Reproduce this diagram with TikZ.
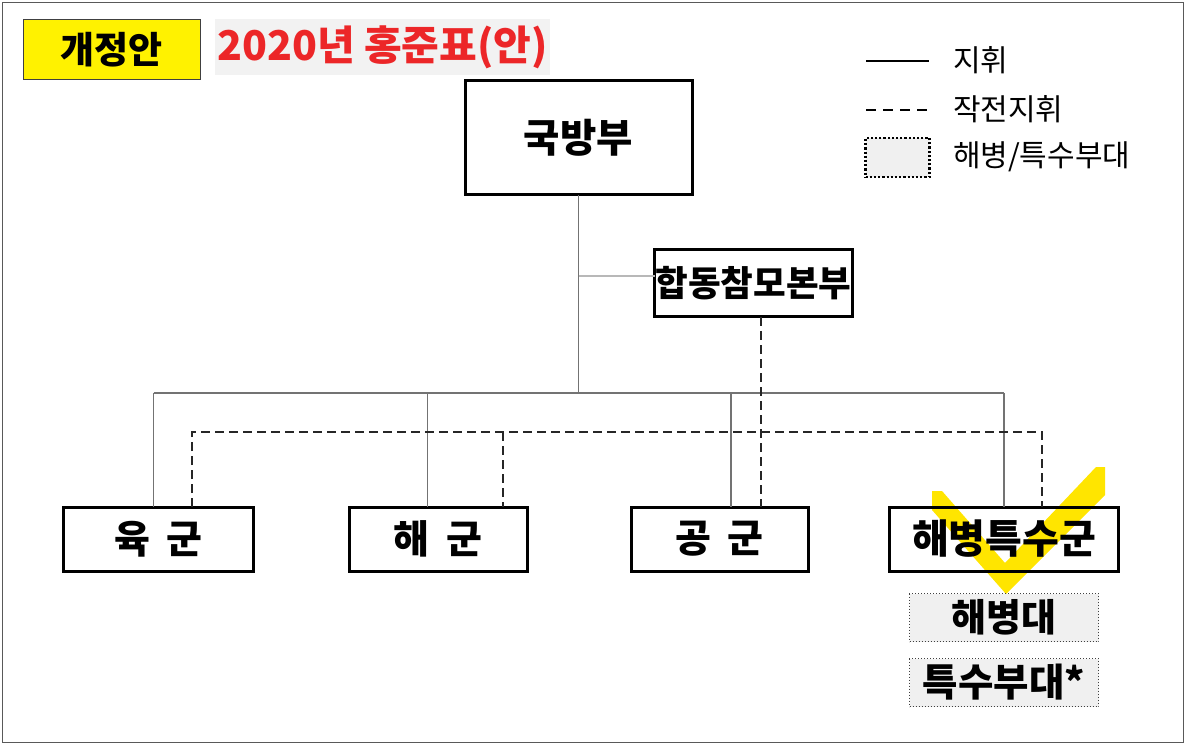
\documentclass[tikz,border=0pt]{standalone}
\usepackage{fontspec}
\setmainfont{Noto Sans CJK KR}
\newcommand{\armsize}{\bfseries\fontsize{39}{42}\selectfont\spaceskip 17pt\relax}
\begin{document}
\begin{tikzpicture}[x=1pt,y=-1pt,
  every node/.style={inner sep=0pt, outer sep=0pt, font=\bfseries},
  orgbox/.style={draw=black, line width=3pt, fill=white},
  subbox/.style={draw=black!75, line width=1pt, dotted, fill=subgray},
  sline/.style={draw=black!55, line width=1.2pt},
  bline/.style={draw=black!28, line width=1.6pt},
  dline/.style={draw=black!85, line width=1.5pt, dash pattern=on 9pt off 5pt},
  legtext/.style={anchor=west},
  armfont/.style={font=\armsize}
]
\definecolor{subgray}{HTML}{F0F0F0}
\definecolor{titlebg}{HTML}{F2F2F2}
\definecolor{titlered}{HTML}{EC2628}
\definecolor{checkyellow}{HTML}{FFE500}
\useasboundingbox (0,0) rectangle (1187,746);
\fill[white] (0,0) rectangle (1187,746);
\draw[black!65, line width=1.5pt] (2.5,2.5) rectangle (1183.5,742.5);

% header
\node[draw=black!75, line width=1pt, fill=yellow, minimum width=177pt, minimum height=60pt,
      font=\bfseries\fontsize{37}{40}\selectfont] (tag) at (111.5,50) {개정안};
\node[fill=titlebg, minimum width=335pt, minimum height=56pt, text=titlered,
      font=\bfseries\fontsize{41}{44}\selectfont] (title) at (382.5,47) {2020년 홍준표(안)};

% legend
\coordinate (l1a) at (866,61); \coordinate (l1b) at (929,61);
\draw[black, line width=1.2pt] (l1a) -- (l1b);
\node[legtext, font=\fontsize{30}{34}\selectfont] (leg1) at (953,60) {지휘};
\coordinate (l2a) at (866,110); \coordinate (l2b) at (929,110);
\draw[black, line width=1.2pt, dash pattern=on 10pt off 7pt] (l2a) -- (l2b);
\node[legtext, font=\fontsize{30}{34}\selectfont] (leg2) at (953,109) {작전지휘};
\node[draw=black, line width=2.2pt, dotted, fill=subgray, minimum width=64pt, minimum height=39pt] (legbox) at (897.5,157.5) {};
\node[legtext, font=\fontsize{30}{34}\selectfont] (leg3) at (953,157) {해병/특수부대};

% main boxes
\node[orgbox, minimum width=227pt, minimum height=114pt, font=\bfseries\fontsize{39.5}{42}\selectfont] (mnd) at (578.5,138) {국방부};
\node[orgbox, minimum width=198pt, minimum height=67pt, font=\bfseries\fontsize{35.5}{38}\selectfont] (jcs) at (753.5,283.5) {합동참모본부};

% solid command lines
\coordinate (s1) at (153.5,393);
\coordinate (s2) at (427.5,393);
\coordinate (s3) at (731,393);
\coordinate (s4) at (1004,393);
\coordinate (br) at (578.5,276);
% dashed op-command lines
\coordinate (d1) at (192,432);
\coordinate (d2) at (503,432);
\coordinate (d4) at (1042,432);
\coordinate (dj) at (761,317);

% yellow check (behind the 해병특수군 box)
\fill[checkyellow] (932,491) -- (942,491) -- (1005,563) -- (1096,467) -- (1105,467)
  -- (1105,495) -- (1006,594) -- (932,510) -- cycle;

\node[orgbox, armfont, minimum width=190pt, minimum height=64pt] (army) at (158.5,539) {육 군};
\node[orgbox, armfont, minimum width=178pt, minimum height=64pt] (navy) at (438,539) {해 군};
\node[orgbox, armfont, minimum width=177pt, minimum height=64pt] (af) at (719.5,539) {공 군};
\node[orgbox, fill=none, minimum width=229pt, minimum height=64pt, font=\bfseries\fontsize{40}{43}\selectfont] (mar) at (1004,539) {해병특수군};

\node[subbox, minimum width=189pt, minimum height=48pt, font=\bfseries\fontsize{38}{41}\selectfont] (marines) at (1004,617.5) {해병대};
\node[subbox, minimum width=189pt, minimum height=48pt, font=\bfseries\fontsize{38.5}{41}\selectfont] (spec) at (1004,682.5) {특수부대*};

% connectors
\draw[sline] (mnd.south) -- (mnd.south |- s1);
\draw[sline] (s1) -- (s4);
\draw[sline] (s1) -- (s1 |- army.north);
\draw[sline] (s2) -- (s2 |- navy.north);
\draw[sline] (s3) -- (s3 |- af.north);
\draw[sline] (s4) -- (s4 |- mar.north);
\draw[bline] (br) -- (br -| jcs.west);

\draw[dline] (d1 |- army.north) -- (d1) -- (d4) -- (d4 |- mar.north);
\draw[dline] (d2) -- (d2 |- navy.north);
\draw[dline] (dj) -- (dj |- af.north);
\end{tikzpicture}
\end{document}
